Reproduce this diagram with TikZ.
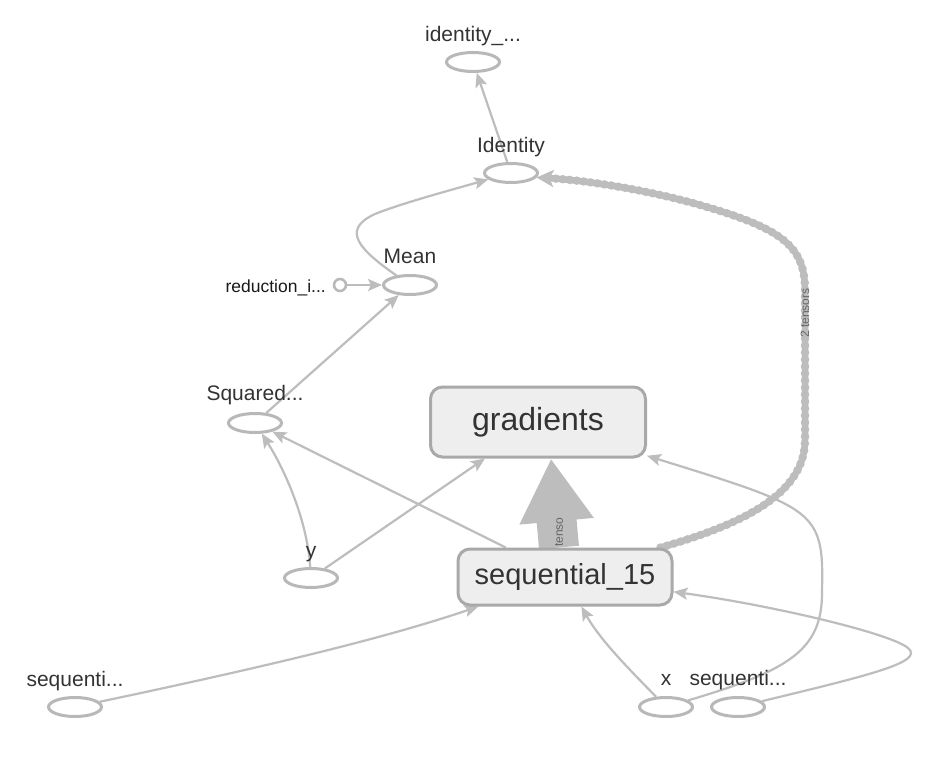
\documentclass[tikz,border=0pt]{standalone}
\usepackage{fontspec}
\setmainfont{Liberation Sans}
\usetikzlibrary{shapes.geometric,arrows.meta,calc}
\definecolor{edgegray}{HTML}{BDBDBD}
\definecolor{nodegray}{HTML}{B8B8B8}
\definecolor{boxfill}{HTML}{EEEEEE}
\definecolor{boxdraw}{HTML}{A9A9A9}
\definecolor{txt}{HTML}{333333}
\definecolor{smalltxt}{HTML}{666666}
\pgfdeclarelayer{bg}
\pgfdeclarelayer{edges}
\pgfsetlayers{bg,edges,main}
\begin{document}
\begin{tikzpicture}[x=1pt,y=-1pt,
  el/.style={ellipse, draw=nodegray, line width=3pt, fill=white,
    minimum width=53pt, minimum height=19pt, inner sep=0pt},
  lbl/.style={font=\fontsize{21}{25}\selectfont, text=txt, anchor=base, inner sep=0pt},
  opbox/.style={rectangle, rounded corners=12pt, draw=boxdraw, line width=3pt,
    fill=boxfill, text=txt, inner sep=0pt},
  edge/.style={draw=edgegray, line width=2.2pt,
    -{Stealth[length=14pt,width=12pt,inset=3pt]}},
  tlabel/.style={font=\fontsize{12}{14}\selectfont, text=smalltxt, inner sep=0pt}
]
\begin{pgfonlayer}{bg}
\fill[white] (0,0) rectangle (950,770);
\end{pgfonlayer}
\useasboundingbox (0,0) rectangle (950,770);

% nodes
\node[el] (idout) at (473,62) {};
\node[lbl] (idoutl) at (473,42) {identity\_...};
\node[el] (ident) at (511,173) {};
\node[lbl] (identl) at (511,153) {Identity};
\node[el] (mean) at (410,285) {};
\node[lbl] (meanl) at (410,263) {Mean};
\node[circle, draw=nodegray, line width=2.5pt, fill=white, minimum size=12pt, inner sep=0pt] (red) at (340,285) {};
\node[lbl, anchor=base east, font=\fontsize{17.5}{21}\selectfont, text=black!90] (redl) at (326,292) {reduction\_i...};
\node[el] (sq) at (255,423) {};
\node[lbl] (sql) at (255,400) {Squared...};
\node[el] (y) at (311,578) {};
\node[lbl] (yl) at (311,557) {y};
\node[opbox, font=\fontsize{32}{38}\selectfont, minimum width=215pt, minimum height=70pt] (grad) at (538,422) {gradients};
\node[opbox, font=\fontsize{29}{34}\selectfont, minimum width=214pt, minimum height=56pt] (seq) at (565,577) {sequential\_15};
\node[el] (ls) at (75,707) {};
\node[lbl] (lsl) at (75,686) {sequenti...};
\node[el] (x) at (666,707) {};
\node[lbl] (xl) at (666,685) {x};
\node[el] (rs) at (738,707) {};
\node[lbl] (rsl) at (738,685) {sequenti...};

\node[tlabel, rotate=90] (tl) at (559,532) {tenso};
\node[tlabel, rotate=90] (tt) at (805,313) {2 tensors};

% edges
\begin{pgfonlayer}{edges}
\draw[edge] (ident) -- (idout);
\draw[edge] (mean) .. controls (360,250) and (340,230) .. (375,214)
  .. controls (400,204) and (440,193) .. (ident);
\draw[edge] (red) -- (mean);
\draw[edge] (sq) -- (mean);
\draw[edge] (y) .. controls (307,520) and (285,470) .. (sq);
\draw[edge] (y) -- (grad);
\draw[edge] (seq) -- (sq);
\draw[draw=edgegray, line width=40pt, -{Triangle[length=63pt,width=70pt]}]
  ($(seq.north)+(-6,0)$) -- ($(grad.south)+(13,0)$);
\draw[draw=edgegray, line width=6.5pt, -{Stealth[length=17pt,width=17pt,inset=4pt]}]
  ($(seq.north east)+(-13,0)$) .. controls (740,525) and (805,495) .. (805,440)
  -- (805,290) .. controls (805,245) and (780,228) .. (700,205)
  .. controls (640,188) and (580,180) .. (ident.-10);
\draw[draw=edgegray, line width=8.5pt, line cap=round, dash pattern=on 0pt off 7pt, shorten >=15pt]
  ($(seq.north east)+(-13,0)$) .. controls (740,525) and (805,495) .. (805,440)
  -- (805,290) .. controls (805,245) and (780,228) .. (700,205)
  .. controls (640,188) and (580,180) .. (ident.-10);
\draw[edge] (ls) .. controls (250,670) and (380,640) .. (seq);
\draw[edge] (x) .. controls (630,670) and (600,640) .. (seq);
\draw[edge] (x) .. controls (790,670) and (823,650) .. (822,590)
  .. controls (824,510) and (815,508) .. (grad);
\draw[edge] (rs) .. controls (870,675) and (925,662) .. (908,648)
  .. controls (890,633) and (770,605) .. (seq);
\end{pgfonlayer}
\end{tikzpicture}
\end{document}
